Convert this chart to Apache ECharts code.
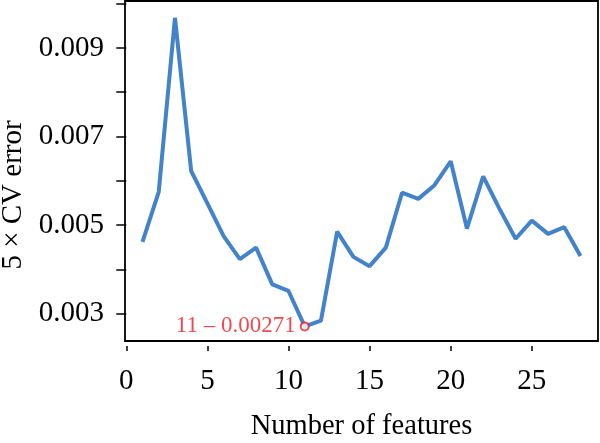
<!DOCTYPE html>
<html>
<head>
<meta charset="utf-8">
<script src="https://cdn.jsdelivr.net/npm/echarts@6/dist/echarts.min.js"></script>
<style>
  html, body { margin: 0; padding: 0; background: #fff; }
  #chart { width: 600px; height: 443px; }
</style>
</head>
<body>
<div id="chart"></div>
<script>
// number of features tried, and the 5-fold CV error for each
const features = [1, 2, 3, 4, 5, 6, 7, 8, 9, 10, 11, 12, 13, 14,
  15, 16, 17, 18, 19, 20, 21, 22, 23, 24, 25, 26, 27, 28];
const cvError = [0.00462, 0.00575, 0.00968, 0.00622, 0.00549, 0.00475, 0.00423,
  0.00449, 0.00366, 0.00351, 0.00271, 0.00284, 0.00485, 0.00428,
  0.00407, 0.00449, 0.00573, 0.00559, 0.00590, 0.00644, 0.00492,
  0.00610, 0.00537, 0.00469, 0.00510, 0.00480, 0.00495, 0.00430];

// the best point, marked in red
const bestFeatures = 11;
const bestError = 0.00271;

const xTicks = [0, 5, 10, 15, 20, 25];
const yTicks = [0.003, 0.004, 0.005, 0.006, 0.007, 0.008, 0.009, 0.010];
const yLabels = [0.003, 0.005, 0.007, 0.009];

const serif = "Liberation Serif";
const red = "#ec1c24";

const chart = echarts.init(document.getElementById("chart"));

const option = {
  animation: false,
  grid: {
    left: 125,
    right: 2,
    top: 1,
    bottom: 102,
    show: true,
    borderColor: "#000",
    borderWidth: 1.8,
    outerBoundsMode: "none",
  },
  xAxis: {
    type: "value",
    min: -0.08,
    max: 29.08,
    offset: 5,
    axisLine: { show: false },
    axisTick: {
      customValues: xTicks,
      length: 5,
      lineStyle: { color: "#000", width: 1.5 },
    },
    axisLabel: {
      customValues: xTicks,
      margin: 21,
      color: "#000",
      fontFamily: serif,
      fontSize: 29,
    },
    splitLine: { show: false },
    name: "Number of features",
    nameLocation: "middle",
    nameGap: 66,
    nameTextStyle: { color: "#000", fontFamily: serif, fontSize: 28.5 },
  },
  yAxis: {
    type: "value",
    min: 0.00238,
    max: 0.01006,
    axisLine: { show: false },
    axisTick: {
      customValues: yTicks,
      length: 10,
      lineStyle: { color: "#000", width: 1.5 },
    },
    axisLabel: {
      customValues: yLabels,
      margin: 21,
      color: "#000",
      fontFamily: serif,
      fontSize: 29,
      formatter: (v) => v.toFixed(3),
    },
    splitLine: { show: false },
    name: "5 × CV error",
    nameLocation: "middle",
    nameGap: 93,
    nameTextStyle: {
      color: "#000",
      fontFamily: serif,
      fontSize: 29,
      padding: [0, 48, 0, 0],
    },
  },
  series: [
    {
      type: "line",
      data: features.map((f, i) => [f, cvError[i]]),
      showSymbol: false,
      lineStyle: { color: "#4283c9", width: 4 },
      z: 2,
    },
    {
      type: "scatter",
      data: [[bestFeatures, bestError]],
      symbol: "emptyCircle",
      symbolSize: 8,
      itemStyle: { color: red, borderWidth: 1.5 },
      label: {
        show: true,
        position: "left",
        distance: 4,
        formatter: (p) => p.value[0] + " – " + p.value[1],
        color: red,
        fontFamily: serif,
        fontSize: 23,
      },
      z: 3,
    },
  ],
};

chart.setOption(option);
</script>
</body>
</html>
